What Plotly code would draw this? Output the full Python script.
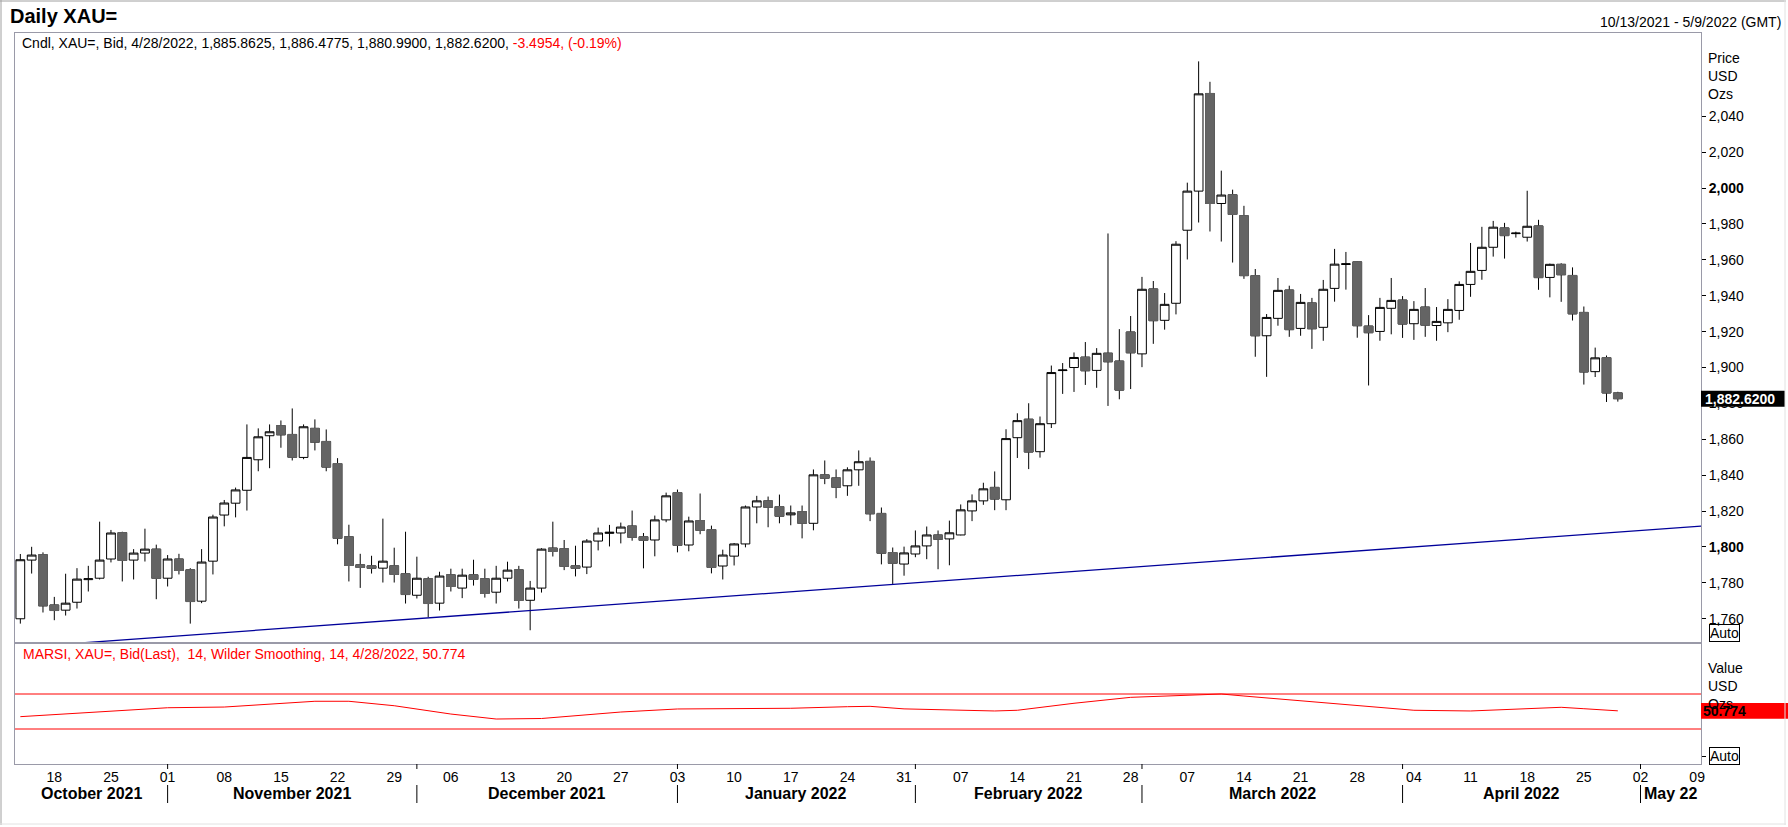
from plotly.subplots import make_subplots
import plotly.graph_objects as go
import pandas as pd

# Daily XAU= bid candles, 13 Oct 2021 - 28 Apr 2022 (one value per trading day)
open_ = [
    1760.0, 1792.7, 1795.7, 1767.7, 1764.8, 1769.2, 1781.8, 1782.6, 1793.3, 1808.0, 1792.7, 1796.6, 1798.8,
    1782.6, 1793.3, 1787.3, 1769.8, 1792.1, 1817.8, 1824.4, 1831.6, 1848.6, 1862.0, 1867.6, 1862.7, 1849.9,
    1866.1, 1858.8, 1846.5, 1805.7, 1790.1, 1789.5, 1788.2, 1789.5, 1785.1,
    1773.1, 1782.3, 1768.7, 1784.5, 1777.1, 1784.5, 1782.3, 1774.8, 1782.6, 1787.3, 1770.3, 1777.1, 1799.4,
    1799.0, 1789.5, 1788.8, 1803.3, 1807.6, 1807.8, 1811.7, 1805.7, 1803.9, 1815.1,
    1830.3, 1801.1, 1814.7, 1809.7, 1789.4, 1794.9, 1801.7, 1822.3, 1825.7, 1822.5, 1817.9, 1819.7, 1813.2,
    1840.2, 1838.5, 1834.1, 1843.0, 1847.7, 1818.7, 1796.9, 1790.5,
    1796.1, 1800.6, 1806.7, 1804.5, 1806.7, 1820.1, 1825.7, 1833.2, 1826.3, 1860.9, 1871.2, 1853.1, 1868.7,
    1898.3, 1900.0, 1905.8, 1898.4, 1908.0, 1903.6, 1919.8,
    1907.6, 1943.8, 1926.3, 1935.8, 1976.5, 1998.3, 2052.7, 1991.4, 1996.3, 1984.6, 1951.2, 1917.7, 1927.4,
    1943.2, 1921.8, 1936.0, 1922.4, 1944.1, 1957.4, 1958.9, 1923.1, 1920.1, 1933.0,
    1937.6, 1924.4, 1933.7, 1923.4, 1924.9, 1931.8, 1946.3, 1954.1, 1967.0, 1977.8, 1974.6, 1972.6, 1978.9,
    1950.2, 1957.5, 1951.3, 1930.7, 1897.7, 1905.5, 1885.8625,
]
high = [
    1796.1, 1800.1, 1797.0, 1772.2, 1785.1, 1788.2, 1789.5, 1814.1, 1809.5, 1808.5, 1798.8, 1810.2, 1801.3,
    1795.5, 1796.2, 1788.2, 1798.8, 1818.0, 1826.2, 1833.1, 1868.3, 1866.1, 1868.3, 1870.5, 1877.2, 1868.3,
    1871.1, 1865.5, 1849.5, 1812.4, 1796.2, 1795.1, 1815.8, 1799.6, 1808.5,
    1794.6, 1783.4, 1786.2, 1787.9, 1787.9, 1792.9, 1787.9, 1789.5, 1791.8, 1789.5, 1781.1, 1799.3, 1814.1,
    1803.9, 1800.7, 1804.4, 1810.8, 1812.3, 1813.6, 1820.3, 1807.8, 1817.5, 1830.3,
    1832.0, 1816.9, 1829.8, 1811.9, 1798.5, 1802.2, 1823.1, 1828.5, 1828.1, 1829.2, 1823.1, 1823.1, 1843.2,
    1848.2, 1843.2, 1844.4, 1853.8, 1849.9, 1822.0, 1799.7, 1800.2,
    1809.2, 1811.4, 1809.2, 1814.7, 1823.7, 1829.3, 1835.8, 1842.1, 1865.6, 1874.5, 1880.1, 1872.7, 1901.1,
    1902.5, 1908.4, 1914.2, 1910.8, 1974.7, 1921.4, 1928.7,
    1950.5, 1948.2, 1941.5, 1970.4, 2003.0, 2070.6, 2059.2, 2009.7, 1999.1, 1990.1, 1954.9, 1929.8, 1949.9,
    1945.6, 1941.0, 1938.8, 1948.8, 1966.1, 1964.4, 1959.1, 1929.2, 1938.8, 1949.9,
    1939.8, 1937.0, 1944.3, 1933.7, 1938.1, 1948.0, 1969.4, 1978.4, 1981.7, 1980.6, 1975.7, 1998.5, 1982.3,
    1957.9, 1958.1, 1955.8, 1934.0, 1911.1, 1906.7, 1886.4775,
]
low = [
    1757.3, 1785.2, 1763.5, 1759.2, 1761.8, 1765.7, 1775.2, 1781.9, 1791.4, 1780.8, 1781.9, 1791.9, 1770.9,
    1778.0, 1784.7, 1757.3, 1768.7, 1784.7, 1811.5, 1816.5, 1820.3, 1842.2, 1843.9, 1855.3, 1848.2, 1848.9,
    1853.8, 1842.2, 1801.5, 1780.8, 1777.2, 1785.2, 1780.2, 1780.2, 1768.5,
    1771.3, 1760.9, 1764.6, 1775.2, 1771.5, 1778.5, 1771.8, 1768.5, 1780.8, 1765.7, 1753.6, 1774.6, 1794.7,
    1787.1, 1783.6, 1784.9, 1798.1, 1800.3, 1802.0, 1803.5, 1788.1, 1794.8, 1813.8,
    1797.0, 1797.6, 1807.1, 1785.3, 1781.9, 1789.7, 1799.8, 1813.2, 1811.0, 1813.2, 1812.1, 1804.8, 1809.3,
    1835.0, 1827.2, 1828.5, 1834.1, 1814.4, 1790.3, 1779.4, 1784.0,
    1794.3, 1793.2, 1787.6, 1789.8, 1806.5, 1814.4, 1823.5, 1820.5, 1820.5, 1849.6, 1843.4, 1849.8, 1866.3,
    1885.3, 1886.4, 1890.3, 1888.7, 1878.6, 1882.3, 1888.0,
    1900.2, 1913.2, 1921.1, 1929.6, 1960.2, 1980.8, 1975.8, 1970.2, 1958.5, 1949.4, 1906.0, 1894.8, 1923.3,
    1917.1, 1917.7, 1910.4, 1914.9, 1936.7, 1943.4, 1916.6, 1890.0, 1914.9, 1918.5,
    1916.5, 1915.4, 1917.1, 1914.9, 1919.7, 1926.6, 1939.4, 1948.9, 1961.8, 1960.7, 1972.4, 1970.2, 1943.3,
    1939.1, 1936.6, 1926.2, 1890.5, 1894.7, 1880.8, 1880.99,
]
close = [
    1792.9, 1795.5, 1767.2, 1764.6, 1768.7, 1782.1, 1782.3, 1792.7, 1807.8, 1792.5, 1796.6, 1798.8, 1782.5,
    1793.3, 1786.9, 1769.6, 1791.6, 1816.7, 1824.5, 1831.8, 1849.9, 1861.4, 1864.2, 1862.5, 1850.0, 1867.0,
    1858.4, 1844.5, 1804.8, 1789.7, 1788.6, 1788.1, 1792.1, 1784.7, 1773.5,
    1782.6, 1768.5, 1783.8, 1778.0, 1784.3, 1781.9, 1774.1, 1782.6, 1787.1, 1770.2, 1777.1, 1798.8, 1797.5,
    1789.2, 1788.1, 1803.3, 1807.8, 1808.2, 1811.1, 1805.4, 1803.7, 1815.1, 1828.5,
    1800.9, 1814.5, 1809.3, 1788.6, 1795.5, 1801.7, 1822.3, 1825.7, 1822.1, 1817.1, 1819.0, 1813.2, 1840.2,
    1838.3, 1833.3, 1843.0, 1847.5, 1818.5, 1796.5, 1790.9, 1796.7,
    1800.6, 1806.7, 1804.3, 1807.9, 1820.7, 1825.7, 1832.4, 1826.7, 1860.4, 1870.4, 1852.9, 1868.7, 1897.2,
    1898.6, 1905.6, 1898.2, 1907.9, 1903.2, 1887.4, 1908.2,
    1943.6, 1926.1, 1935.2, 1968.7, 1998.3, 2052.5, 1991.4, 1996.1, 1985.3, 1951.2, 1917.7, 1927.9, 1943.0,
    1921.1, 1936.3, 1921.6, 1943.6, 1957.6, 1957.8, 1923.3, 1919.4, 1933.5, 1937.4,
    1924.2, 1932.4, 1923.6, 1925.7, 1932.4, 1946.3, 1953.6, 1967.0, 1978.2, 1973.5, 1974.9, 1978.7, 1950.1,
    1957.5, 1951.7, 1929.9, 1897.5, 1905.4, 1885.8, 1882.62,
]

# support trendline (two anchor points)
trend_dates = ["2021-10-13", "2022-05-10"]
trend_vals = [1744.1, 1811.9]

# MARSI (14, Wilder smoothing)
rsi_dates = [
    "2021-10-13", "2021-10-18", "2021-10-25", "2021-11-01", "2021-11-08", "2021-11-15", "2021-11-18",
    "2021-11-23", "2021-11-29", "2021-12-06", "2021-12-10", "2021-12-16", "2021-12-20", "2021-12-27",
    "2022-01-03", "2022-01-10", "2022-01-17", "2022-01-24", "2022-01-26", "2022-01-31", "2022-02-07",
    "2022-02-10", "2022-02-14", "2022-02-21", "2022-02-28", "2022-03-07", "2022-03-10", "2022-03-14",
    "2022-03-21", "2022-03-28", "2022-04-04", "2022-04-11", "2022-04-18", "2022-04-21", "2022-04-25",
    "2022-04-28",
]
rsi_vals = [
    44.1, 46.3, 50.6, 54.3, 55.1, 59.4, 61.7, 61.7, 56.6, 47.1, 41.4, 42.0, 44.1, 49.4, 52.9, 53.7, 53.7,
    55.5, 55.9, 53.0, 51.4, 50.6, 51.4, 59.4, 66.2, 68.9, 70.0, 67.7, 62.0, 56.3, 51.4, 50.6, 53.7, 54.8,
    53.2, 50.774,
]

price_ticks = [1760, 1780, 1800, 1820, 1840, 1860, 1880, 1900, 1920, 1940, 1960, 1980, 2000, 2020, 2040]
bold_ticks = [1800, 2000]
month_labels = ["October 2021", "November 2021", "December 2021", "January 2022", "February 2022",
                "March 2022", "April 2022", "May 22"]

# page geometry (pixels)
W, H = 1788, 827
L, R, T, B = 15, 1701, 33, 764
SPLIT = 643
FRAME = "#9a9aa8"
FONT = "Arial, Liberation Sans, sans-serif"


def px(x):
    return (x - L) / (R - L)


def py(y):
    return (B - y) / (B - T)


days = pd.bdate_range("2021-10-13", "2022-05-10").strftime("%Y-%m-%d").tolist()
dates = days[:len(close)]
mondays = [d for d in days if pd.Timestamp(d).weekday() == 0]
month_starts = [i for i in range(1, len(days)) if days[i][5:7] != days[i - 1][5:7]]
x_range = [-0.47, 148.34]

fig = make_subplots(rows=2, cols=1, shared_xaxes=True, vertical_spacing=0)

fig.add_trace(
    go.Candlestick(
        x=dates, open=open_, high=high, low=low, close=close,
        increasing=dict(line=dict(color="black", width=1), fillcolor="white"),
        decreasing=dict(line=dict(color="black", width=1), fillcolor="#646464"),
        whiskerwidth=0, name="XAU=",
    ),
    row=1, col=1,
)
# grey bodies without the black outline on falling days
dn = [i for i in range(len(close)) if close[i] < open_[i]]
fig.add_trace(
    go.Candlestick(
        x=[dates[i] for i in dn],
        open=[open_[i] for i in dn],
        high=[open_[i] for i in dn],
        low=[close[i] for i in dn],
        close=[close[i] for i in dn],
        increasing=dict(line=dict(color="#646464", width=1), fillcolor="#646464"),
        decreasing=dict(line=dict(color="#646464", width=1), fillcolor="#646464"),
        whiskerwidth=0, hoverinfo="skip",
    ),
    row=1, col=1,
)
fig.add_trace(
    go.Scatter(x=trend_dates, y=trend_vals, mode="lines", line=dict(color="#00009a", width=1.3),
               hoverinfo="skip"),
    row=1, col=1,
)
fig.add_trace(
    go.Scatter(x=rsi_dates, y=rsi_vals, mode="lines", line=dict(color="red", width=1)),
    row=2, col=1,
)
fig.add_hline(y=70, line=dict(color="red", width=1), row=2, col=1)
fig.add_hline(y=30, line=dict(color="red", width=1), row=2, col=1)

fig.update_xaxes(
    type="category", categoryorder="array", categoryarray=days, range=x_range,
    showgrid=False, zeroline=False, showline=True, mirror=True, linecolor=FRAME, linewidth=1,
    rangeslider_visible=False, ticks="",
)
fig.update_xaxes(showticklabels=False, row=1, col=1)
fig.update_xaxes(
    tickvals=mondays, ticktext=[d[8:] for d in mondays], tickfont=dict(size=14, color="black"),
    row=2, col=1,
)
fig.update_yaxes(
    side="right", range=[1746.5, 2086.4], domain=[py(SPLIT), 1],
    tickvals=price_ticks,
    ticktext=[f"<b>{v:,}</b>" if v in bold_ticks else f"{v:,}" for v in price_ticks],
    ticks="outside", ticklen=4, tickcolor="black", tickfont=dict(size=14, color="black"),
    showgrid=False, zeroline=False, showline=True, mirror=True, linecolor=FRAME, linewidth=1,
    row=1, col=1,
)
fig.update_yaxes(
    side="right", range=[-10, 128.3], domain=[0, py(SPLIT)],
    tickvals=[-0.9], ticktext=[""], ticks="outside", ticklen=4, tickcolor="black",
    showgrid=False, zeroline=False, showline=True, mirror=True, linecolor=FRAME, linewidth=1,
    row=2, col=1,
)


def note(x, y, text, **kw):
    kw.setdefault("xanchor", "left")
    kw.setdefault("font", dict(size=14, color="black"))
    fig.add_annotation(x=px(x), y=py(y), xref="paper", yref="paper", text=text,
                       showarrow=False, yanchor="middle", **kw)


note(8, 16, "<b>Daily XAU=</b>", font=dict(size=20, color="black"))
note(1783, 22, "10/13/2021 - 5/9/2022 (GMT)", xanchor="right")
note(20, 43, "Cndl, XAU=, Bid, 4/28/2022, 1,885.8625, 1,886.4775, 1,880.9900, 1,882.6200, "
             "<span style='color:#ff0000'>-3.4954, (-0.19%)</span>")
note(21, 654, "MARSI, XAU=, Bid(Last), \u00a014, Wilder Smoothing, 14, 4/28/2022, 50.774",
     font=dict(size=14, color="#ff0000"))
for i, t in enumerate(["Price", "USD", "Ozs"]):
    note(1706, 58 + 18 * i, t)
for i, t in enumerate(["Value", "USD", "Ozs"]):
    note(1706, 668 + 18 * i, t)
note(1709, 633, "Auto", bordercolor="black", borderwidth=1, borderpad=0)
note(1709, 756, "Auto", bordercolor="black", borderwidth=1, borderpad=0)

# last value tags
fig.add_shape(type="rect", xref="paper", yref="y", x0=px(1701), x1=px(1785),
              y0=close[-1] - 4.5, y1=close[-1] + 4.5, fillcolor="black", line_width=0)
fig.add_annotation(xref="paper", yref="y", x=px(1703), y=close[-1], text=f"<b>{close[-1]:,.4f}</b>",
                   showarrow=False, xanchor="left", yanchor="middle", font=dict(size=14, color="white"))
fig.add_shape(type="rect", xref="paper", yref="y2", x0=px(1701), x1=px(1788),
              y0=rsi_vals[-1] - 9, y1=rsi_vals[-1] + 9, fillcolor="red", line_width=0)
fig.add_annotation(xref="paper", yref="y2", x=px(1701), y=rsi_vals[-1], text=f"<b>{rsi_vals[-1]}</b>",
                   showarrow=False, xanchor="left", yanchor="middle", font=dict(size=14, color="black"))

# month row: separators and centred labels
edges = [x_range[0]] + month_starts + [x_range[1]]
for k, lab in enumerate(month_labels):
    fig.add_annotation(xref="x2", yref="paper", x=(edges[k] + edges[k + 1]) / 2, y=py(794),
                       text=f"<b>{lab}</b>", showarrow=False, xanchor="center", yanchor="middle",
                       font=dict(size=16, color="black"))
for s in month_starts:
    if s <= x_range[1]:
        fig.add_shape(type="line", xref="x2", yref="paper", x0=s, x1=s, y0=py(785), y1=py(803),
                      line=dict(color="black", width=1))
        fig.add_shape(type="line", xref="x2", yref="paper", x0=s, x1=s, y0=py(764), y1=py(769),
                      line=dict(color="black", width=1))

# outer frame
for (x0, y0, x1, y1, c) in [(0, 1, 1786, 1, "#a0a0a0"), (1, 0, 1, 825, "#a0a0a0"),
                            (0, 824, 1786, 824, "#e2e2e2"), (1785, 0, 1785, 825, "#e2e2e2")]:
    fig.add_shape(type="line", xref="paper", yref="paper", x0=px(x0), x1=px(x1), y0=py(y0), y1=py(y1),
                  line=dict(color=c, width=1))

fig.update_layout(
    width=W, height=H, autosize=False,
    margin=dict(l=L, r=W - R, t=T, b=H - B),
    paper_bgcolor="white", plot_bgcolor="white",
    showlegend=False, hovermode="x",
    font=dict(family=FONT, size=14, color="black"),
    boxgap=0.23, boxgroupgap=0,
)

fig.write_html("out.html", config={"displayModeBar": False},
               post_script="document.body.style.margin='0';document.body.style.overflow='hidden';")
